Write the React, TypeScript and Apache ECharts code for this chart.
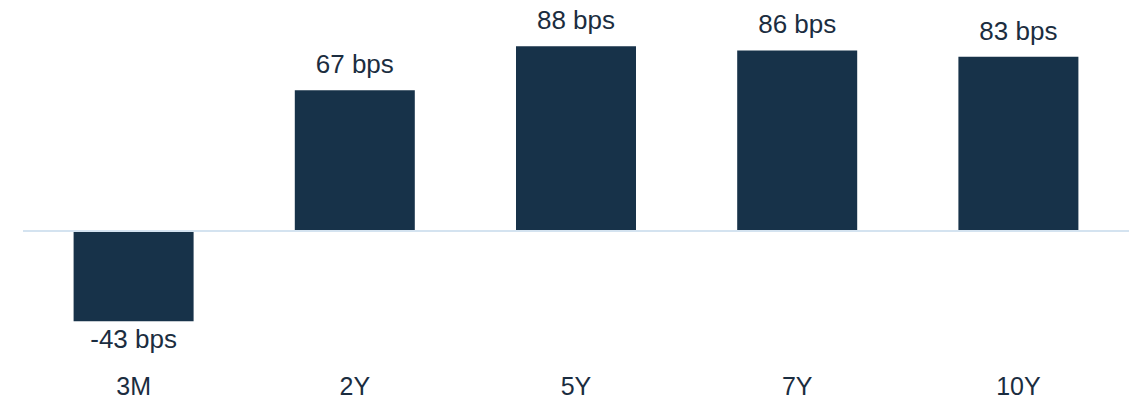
import React, { useEffect, useRef } from "react";
import * as echarts from "echarts";

const categories = ["3M", "2Y", "5Y", "7Y", "10Y"];
const values = [-43, 67, 88, 86, 83];
const yMin = -60;
const yMax = 100;

export default function App() {
  const ref = useRef<HTMLDivElement>(null);
  useEffect(() => {
    document.body.style.margin = "0";
    const chart = echarts.init(ref.current!, null, { renderer: "svg" });
    const font = "Liberation Sans, Arial, sans-serif";
    chart.setOption({
      animation: false,
      backgroundColor: "#ffffff",
      grid: { left: 23, right: 13, top: 21, bottom: 43, containLabel: false },
      xAxis: {
        type: "category",
        data: categories,
        axisLine: { show: false, onZero: false },
        axisTick: { show: false },
        axisLabel: {
          color: "#1b2d40",
          fontSize: 25,
          fontFamily: font,
          margin: 16,
        },
      },
      yAxis: {
        type: "value",
        min: yMin,
        max: yMax,
        show: false,
        splitLine: { show: false },
      },
      series: [
        {
          type: "bar",
          data: values.map((v) => ({
            value: v,
            label: v < 0 ? { position: "bottom", distance: 5 } : { position: "top", distance: 13 },
          })),
          barWidth: 120,
          itemStyle: { color: "#173249" },
          label: {
            show: true,
            color: "#1b2d40",
            fontSize: 26,
            fontFamily: font,
            formatter: (p: any) => `${p.value} bps`,
          },
          markLine: {
            silent: true,
            symbol: "none",
            label: { show: false },
            lineStyle: { color: "#d4e3f0", width: 2, type: "solid" },
            data: [{ yAxis: 0 }],
          },
        },
      ],
    });
    return () => chart.dispose();
  }, []);
  return <div ref={ref} style={{ width: 1142, height: 400 }} />;
}
